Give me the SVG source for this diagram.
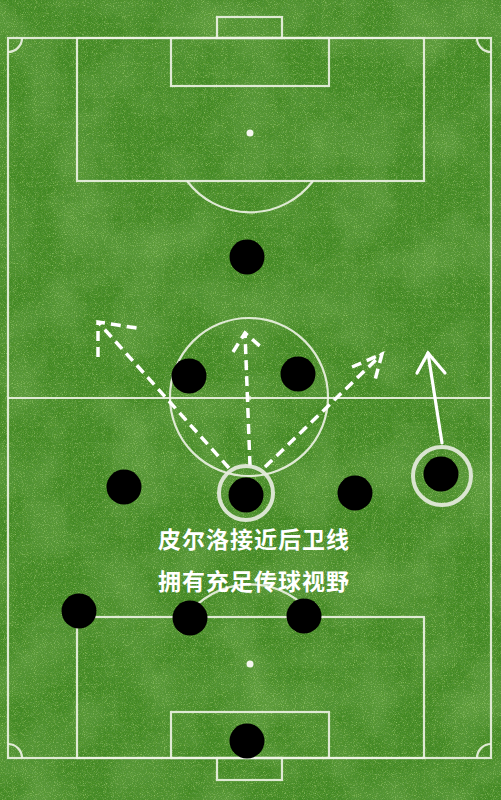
<svg xmlns="http://www.w3.org/2000/svg" width="501" height="800" viewBox="0 0 501 800">
<defs>
<filter id="grass" x="0" y="0" width="100%" height="100%">
<feTurbulence type="fractalNoise" baseFrequency="0.9" numOctaves="2" seed="3" result="fine"/>
<feColorMatrix in="fine" type="matrix" values="0 0 0 0 0.1  0 0 0 0 0.32  0 0 0 0 0.03  0 0 0 -2.2 1.45" result="darkSpecks"/>
<feColorMatrix in="fine" type="matrix" values="0 0 0 0 0.33  0 0 0 0 0.62  0 0 0 0 0.15  0 0 0 2 -1.05" result="lightSpecks"/>
<feTurbulence type="fractalNoise" baseFrequency="0.018" numOctaves="3" seed="7" result="coarse"/>
<feColorMatrix in="coarse" type="matrix" values="0 0 0 0 0.12  0 0 0 0 0.34  0 0 0 0 0.06  0 0 0 -2.2 1.35" result="coarseC"/>
<feMerge><feMergeNode in="SourceGraphic"/><feMergeNode in="coarseC"/><feMergeNode in="darkSpecks"/><feMergeNode in="lightSpecks"/></feMerge>
</filter>
<style>
.line{fill:none;stroke:#eef3e6;stroke-width:2.2;opacity:0.9}
.player{fill:#000}
.ring{fill:none;stroke:#e6ecde;stroke-width:4;opacity:0.92}
.dash{fill:none;stroke:#fff;stroke-width:3.5;stroke-dasharray:10 6;stroke-linecap:butt}
.solid{fill:none;stroke:#fff;stroke-width:3.2;stroke-linecap:round}
.txt{font-family:"Noto Sans CJK SC","Noto Sans",sans-serif;font-size:23px;font-weight:bold;fill:#fff;text-anchor:middle;letter-spacing:1px}
</style>
</defs>
<rect width="501" height="800" fill="#33801c" filter="url(#grass)"/>
<g id="pitch">
<rect class="line" x="8" y="38" width="483" height="720"/>
<line class="line" x1="8" y1="398" x2="491" y2="398"/>
<circle class="line" cx="249" cy="397" r="79"/>
<circle cx="249" cy="398" r="2.5" fill="#eef3e6" opacity="0.7"/>
<rect class="line" x="217" y="17" width="65" height="21"/>
<rect class="line" x="171" y="38" width="158" height="48"/>
<rect class="line" x="77" y="38" width="347" height="143"/>
<circle cx="250" cy="133" r="3.5" fill="#f4f6ee"/>
<path class="line" d="M187 181 A79 79 0 0 0 313 181"/>
<rect class="line" x="217" y="758" width="65" height="22"/>
<rect class="line" x="171" y="712" width="158" height="46"/>
<rect class="line" x="77" y="617" width="347" height="141"/>
<circle cx="250" cy="664" r="3.5" fill="#f4f6ee"/>
<path class="line" d="M186 617 A79 79 0 0 1 314 617"/>
<path class="line" d="M8 52 A14 14 0 0 0 22 38"/>
<path class="line" d="M477 38 A14 14 0 0 0 491 52"/>
<path class="line" d="M8 744 A14 14 0 0 1 22 758"/>
<path class="line" d="M477 758 A14 14 0 0 1 491 744"/>
</g>
<g id="connectors">
<path class="dash" d="M229 468 L98 322"/>
<path class="dash" d="M98 357 L98 322 L137 328"/>
<path class="dash" d="M250 466 L245 333"/>
<path class="dash" d="M233 352 L245 333 L262 348"/>
<path class="dash" d="M265 467 L382 354"/>
<path class="dash" d="M352 367 L382 354 L375 380"/>
<path class="solid" d="M442 443 L428 353"/>
<path class="solid" d="M417 373 L428 353 L445 373"/>
</g>
<g id="p1"><circle class="player" cx="247" cy="257" r="17.5"/></g>
<g id="p2"><circle class="player" cx="189" cy="376" r="17.5"/></g>
<g id="p3"><circle class="player" cx="298" cy="374" r="17.5"/></g>
<g id="p4"><circle class="player" cx="124" cy="487" r="17.5"/></g>
<g id="pirlo"><circle class="ring" cx="246" cy="493" r="27"/><circle class="player" cx="246" cy="495" r="17.5"/></g>
<g id="p6"><circle class="player" cx="355" cy="493" r="17.5"/></g>
<g id="p7"><circle class="ring" cx="442" cy="476" r="29"/><circle class="player" cx="441" cy="474" r="17.5"/></g>
<g id="p8"><circle class="player" cx="79" cy="611" r="17.5"/></g>
<g id="p9"><circle class="player" cx="190" cy="618" r="17.5"/></g>
<g id="p10"><circle class="player" cx="304" cy="616" r="17.5"/></g>
<g id="gk"><circle class="player" cx="247" cy="741" r="17.5"/></g>
<g id="caption">
<text class="txt" x="254" y="548">皮尔洛接近后卫线</text>
<text class="txt" x="254" y="590">拥有充足传球视野</text>
</g>
</svg>
